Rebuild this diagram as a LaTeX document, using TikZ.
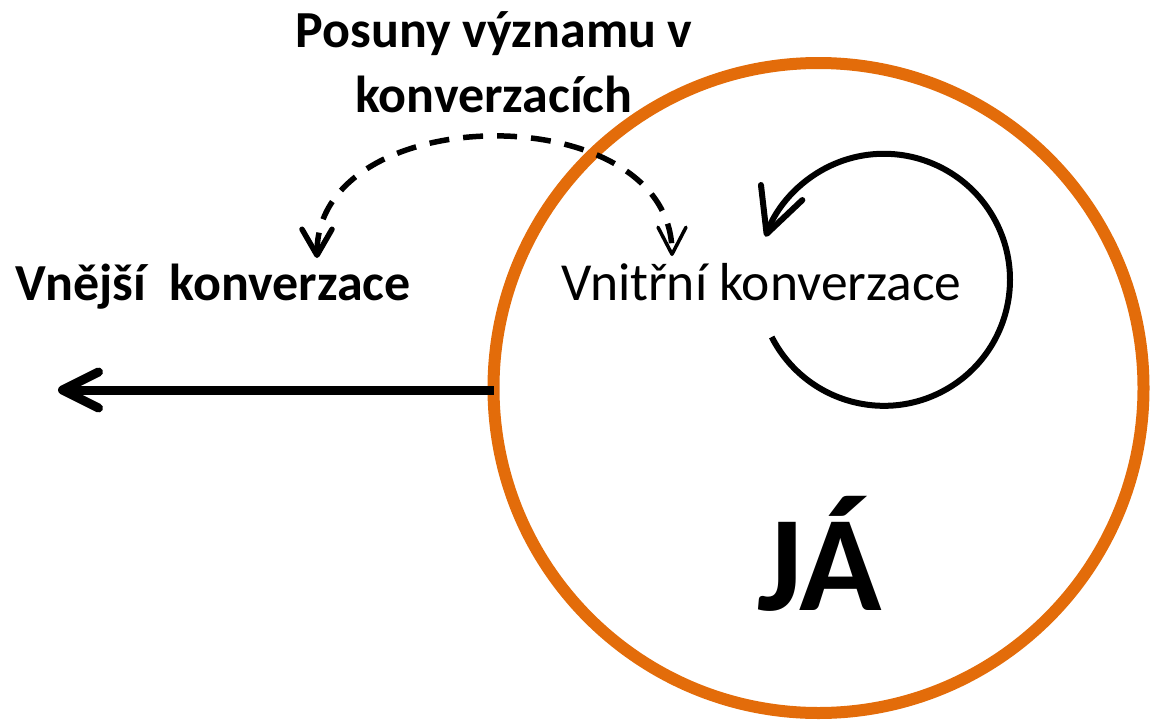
\documentclass[tikz,border=0pt]{standalone}
\usepackage{fontspec}
\setmainfont{Carlito}
\usetikzlibrary{arrows.meta}
\definecolor{jaorange}{RGB}{227,108,10}
\begin{document}
\begin{tikzpicture}[x=1pt,y=-1pt,
  lbl/.style={inner sep=0pt, outer sep=0pt, text=black},
  boldlbl/.style={lbl, font=\fontsize{52}{65}\selectfont\bfseries},
  reglbl/.style={lbl, font=\fontsize{53.5}{65}\selectfont},
  biglbl/.style={lbl, font=\fontsize{136}{160}\selectfont\bfseries},
  selfcircle/.style={circle, draw=jaorange, line width=12pt, minimum size=650pt, inner sep=0pt, outer sep=0pt},
  outarrow/.style={draw=black, line width=9pt, -{Straight Barb[length=36pt,width=36pt,round]}},
  looparrow/.style={draw=black, line width=6pt, -{Straight Barb[length=44pt,width=44pt,round]}},
  shiftarrow/.style={draw=black, line width=5.5pt, dash pattern=on 20pt off 14pt,
    {Straight Barb[length=26pt,width=30pt,round]}-{Straight Barb[length=27pt,width=28pt,round,line width=3.5pt]}}
]
\useasboundingbox (0,0) rectangle (1151,720);
\node[selfcircle] (self) at (818.5,388) {};
\node[boldlbl, align=center, anchor=base] (shift) at (494,112) {Posuny významu v\\konverzacích};
\node[boldlbl, anchor=base west] (outer) at (16,300) {Vnější~~konverzace};
\node[reglbl, anchor=base west] (inner) at (561,300) {Vnitřní konverzace};
\node[biglbl, anchor=base] (ja) at (820,610) {JÁ};
\coordinate (outend) at (58,390);
\coordinate (shiftL) at (317,258);
\coordinate (shiftR) at (672,256);
\coordinate (loopstart) at (771.7,337.0);
\draw[outarrow] (self.west |- outend) -- (outend);
\draw[shiftarrow] (shiftL) .. controls +(0,-160) and +(0,-160) .. (shiftR);
\draw[looparrow] (loopstart) arc[start angle=153, end angle=-160, radius=126];
\end{tikzpicture}
\end{document}
